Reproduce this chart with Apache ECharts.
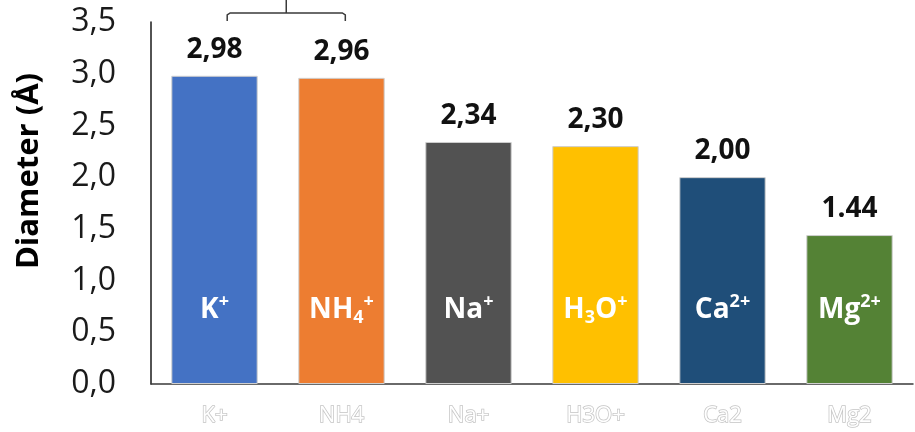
<!DOCTYPE html>
<html>
<head>
<meta charset="utf-8">
<script src="https://cdn.jsdelivr.net/npm/echarts@6/dist/echarts.min.js"></script>
<style>
  html, body { margin: 0; padding: 0; background: #ffffff; }
  #chart { width: 915px; height: 432px; }
</style>
</head>
<body>
<div id="chart"></div>
<script>
// Ion categories (axis labels) and their hydrated diameters in Å
const categories = ['K+', 'NH4', 'Na+', 'H3O+', 'Ca2', 'Mg2'];
const diameters = [2.98, 2.96, 2.34, 2.30, 2.00, 1.44];
const valueLabels = ['2,98', '2,96', '2,34', '2,30', '2,00', '1.44'];
// Ion formulas drawn inside each bar (rich text: m = main, sp = superscript, sb = subscript)
const ionLabels = [
  '{m|K}{sp|+}',
  '{m|NH}{sb|4}{sp|+}',
  '{m|Na}{sp|+}',
  '{m|H}{sb|3}{m|O}{sp|+}',
  '{m|Ca}{sp|2+}',
  '{m|Mg}{sp|2+}'
];
const barColors = ['#4472C4', '#ED7D31', '#525252', '#FFC000', '#1F4E79', '#548235'];
const yTicks = { min: 0, max: 3.5, interval: 0.5 };

const FONT = '"Open Sans", "Noto Sans", sans-serif';
const chart = echarts.init(document.getElementById('chart'));

const option = {
  animation: false,
  grid: { left: 151, right: 2, top: 22, bottom: 48, containLabel: false },
  xAxis: {
    type: 'category',
    data: categories,
    axisLine: { show: true, lineStyle: { color: '#3a3a3a', width: 1.5 } },
    axisTick: { show: false },
    axisLabel: {
      margin: 21,
      fontFamily: FONT,
      fontSize: 22,
      color: '#ffffff',
      textBorderColor: '#c4c4c4',
      textBorderWidth: 1.5
    }
  },
  yAxis: {
    type: 'value',
    min: yTicks.min,
    max: yTicks.max,
    interval: yTicks.interval,
    name: 'Diameter (Å)',
    nameLocation: 'middle',
    nameGap: 106,
    nameRotate: 90,
    nameTextStyle: {
      fontFamily: FONT, fontSize: 31, fontWeight: 'bold', color: '#000',
      padding: [0, 0, 0, 64]
    },
    axisLine: { show: true, lineStyle: { color: '#1a1a1a', width: 1.5 } },
    axisTick: { show: false },
    splitLine: { show: false },
    axisLabel: {
      margin: 35,
      fontFamily: FONT,
      fontSize: 32,
      color: '#1a1a1a',
      formatter: v => v.toFixed(1).replace('.', ',')
    }
  },
  series: [
    {
      type: 'bar',
      barCategoryGap: '32%',
      data: diameters.map((v, i) => ({
        value: v,
        itemStyle: { color: barColors[i], borderColor: '#cfcfcf', borderWidth: 1 }
      })),
      label: {
        show: true,
        position: 'top',
        distance: 12,
        fontFamily: FONT,
        fontSize: 28,
        fontWeight: 'bold',
        color: '#111',
        formatter: p => valueLabels[p.dataIndex]
      }
    },
    {
      type: 'bar',
      barGap: '-100%',
      barCategoryGap: '32%',
      silent: true,
      data: diameters,
      itemStyle: { color: 'rgba(0,0,0,0)', borderWidth: 0 },
      label: {
        show: true,
        position: 'insideBottom',
        distance: 57,
        formatter: p => ionLabels[p.dataIndex],
        rich: {
          m: { fontFamily: FONT, fontSize: 28, fontWeight: 'bold', color: '#fff', lineHeight: 34 },
          sp: { fontFamily: FONT, fontSize: 18, fontWeight: 'bold', color: '#fff', verticalAlign: 'top', lineHeight: 17 },
          sb: { fontFamily: FONT, fontSize: 18, fontWeight: 'bold', color: '#fff', verticalAlign: 'bottom', lineHeight: 14 }
        }
      }
    }
  ]
};

chart.setOption(option);

// Bracket linking the two largest ions above their bars
const c0 = chart.convertToPixel({ xAxisIndex: 0 }, categories[0]);
const c1 = chart.convertToPixel({ xAxisIndex: 0 }, categories[1]);
const step = c1 - c0;
const xl = c0 + 0.1 * step;
const xr = c0 + 1.03 * step;
const xm = (xl + xr) / 2;
const yb = 13;
chart.setOption({
  graphic: [
    {
      type: 'polyline',
      shape: { points: [[xl, yb + 8], [xl, yb + 2], [xl + 3, yb], [xr - 3, yb], [xr, yb + 2], [xr, yb + 8]] },
      style: { stroke: '#3a3a3a', lineWidth: 1.5, fill: null }
    },
    {
      type: 'line',
      shape: { x1: xm, y1: 0, x2: xm, y2: yb },
      style: { stroke: '#3a3a3a', lineWidth: 1.5 }
    }
  ]
});
</script>
</body>
</html>
